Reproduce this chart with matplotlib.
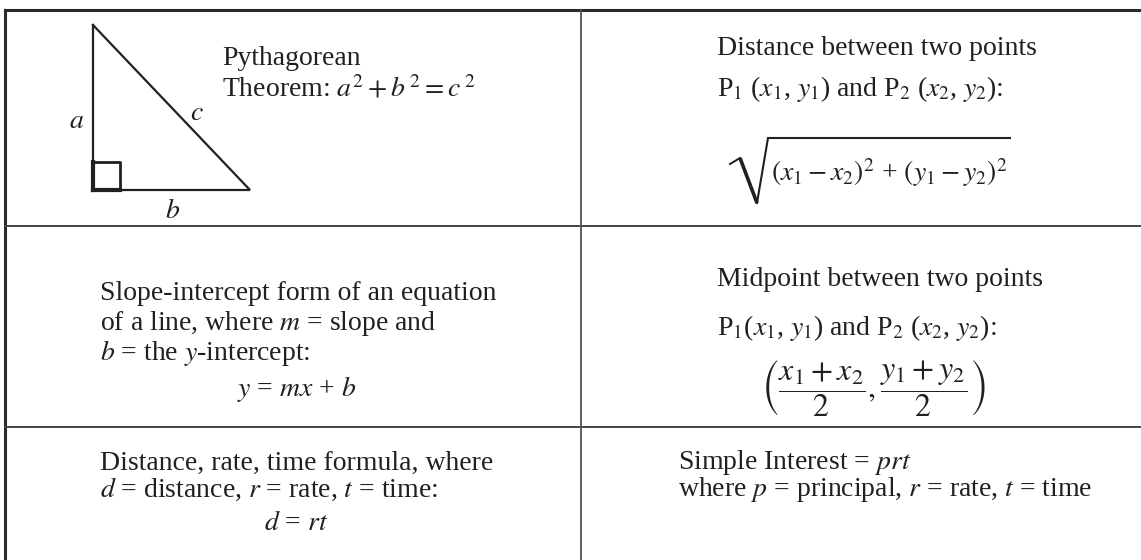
import matplotlib
matplotlib.use("Agg")
import matplotlib.pyplot as plt

plt.rcParams['font.family'] = ['Liberation Serif', 'DejaVu Serif']
plt.rcParams['mathtext.fontset'] = 'stix'

# table layout (pixels)
col_edges = [5, 581, 1141]
row_edges = [10, 226, 427, 560]

# right triangle with legs a, b and hypotenuse c
tri_x = [93, 93, 250, 93]
tri_y = [25, 190, 190, 25]
tri_labels = ['$a$', '$b$', '$c$']

pyth_lines = ['Pythagorean', r'Theorem: $a^2 + b^{\,2} = c^{\,2}$']
dist_lines = ['Distance between two points',
              r'P$_1$ ($x_1$, $y_1$) and P$_2$ ($x_2$, $y_2$):']
dist_formula = r'$(x_1 - x_2)^2$ + $(y_1 - y_2)^2$'
slope_lines = ['Slope-intercept form of an equation',
               r'of a line, where $m$ = slope and',
               r'$b$ = the $y$-intercept:']
slope_formula = r'$y$ = $mx$ + $b$'
mid_lines = ['Midpoint between two points',
             r'P$_1$($x_1$, $y_1$) and P$_2$ ($x_2$, $y_2$):']
mid_formula = r'$\left(\dfrac{x_1 + x_2}{2}, \dfrac{y_1 + y_2}{2}\right)$'
drt_lines = ['Distance, rate, time formula, where',
             r'$d$ = distance, $r$ = rate, $t$ = time:']
drt_formula = r'$d$ = $rt$'
interest_lines = [r'Simple Interest = $prt$',
                  r'where $p$ = principal, $r$ = rate, $t$ = time']

fig = plt.figure(figsize=(11.41, 5.6), dpi=100)
ax = fig.add_axes([0, 0, 1, 1])
ax.set_xlim(0, 1141)
ax.set_ylim(560, 0)
ax.axis('off')

# grid lines
ax.plot([col_edges[0], col_edges[-1]], [row_edges[0]] * 2, color='#2a2a2a', lw=2.2)
ax.plot([col_edges[0]] * 2, [row_edges[0], row_edges[-1]], color='#2a2a2a', lw=2.2)
for y in row_edges[1:-1]:
    ax.plot([col_edges[0], col_edges[-1]], [y, y], color='#444444', lw=1.4)
ax.plot([col_edges[1]] * 2, [row_edges[0], row_edges[-1]], color='#555555', lw=1.3)

# triangle
ink = '#231f20'
ax.plot(tri_x, tri_y, color=ink, lw=1.6, solid_joinstyle='miter')
ax.plot([93, 120, 120], [162, 162, 190], color=ink, lw=2.0)
ax.plot([93, 120], [190, 190], color=ink, lw=3.0)
ax.plot([93, 93], [162, 190], color=ink, lw=3.0)
fs = 20
ax.text(77, 122, tri_labels[0], fontsize=fs, ha='center', va='center', color=ink)
ax.text(173, 212, tri_labels[1], fontsize=fs, ha='center', va='center', color=ink)
ax.text(197, 114, tri_labels[2], fontsize=fs, ha='center', va='center', color=ink)

txt = dict(fontsize=fs, color=ink, va='baseline')
for line, y in zip(pyth_lines, [65, 96]):
    ax.text(222, y, line, **txt)

# distance between two points, with a hand-drawn radical
for line, y in zip(dist_lines, [55, 96]):
    ax.text(717, y, line, **txt)
ax.plot([730, 740], [164, 158], color=ink, lw=1.4)
ax.plot([740, 757], [158, 203], color=ink, lw=2.6, solid_capstyle='butt')
ax.plot([757, 768, 1010], [203, 138, 138], color=ink, lw=1.5, solid_joinstyle='miter')
ax.text(771, 181, dist_formula, **txt)

# slope-intercept
for line, y in zip(slope_lines, [300, 330, 360]):
    ax.text(100, y, line, **txt)
ax.text(297, 396, slope_formula, ha='center', fontsize=fs, color=ink, va='baseline')

# midpoint
for line, y in zip(mid_lines, [286, 335]):
    ax.text(717, y, line, **txt)
ax.text(873, 389, mid_formula, ha='center', va='center', fontsize=23, color=ink)

# distance, rate, time
for line, y in zip(drt_lines, [470, 497]):
    ax.text(100, y, line, **txt)
ax.text(296, 530, drt_formula, ha='center', fontsize=fs, color=ink, va='baseline')

# simple interest
for line, y in zip(interest_lines, [469, 496]):
    ax.text(678, y, line, **txt)

fig.savefig('out.png', dpi=100)
